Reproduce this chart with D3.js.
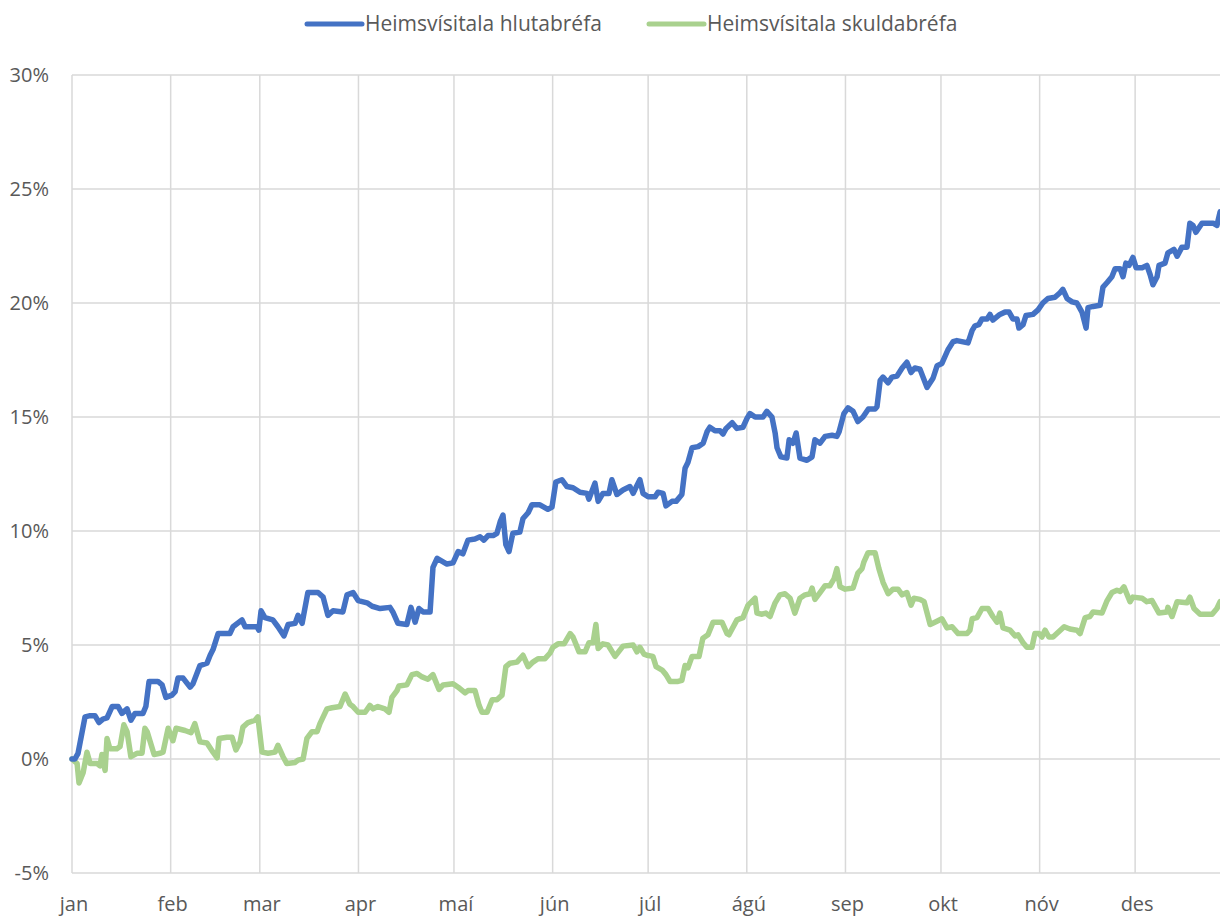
<!DOCTYPE html>
<html>
<head>
<meta charset="utf-8">
<script src="https://cdn.jsdelivr.net/npm/d3@7"></script>
<style>
  body { margin: 0; background: #fff; }
  svg text { font-family: "Open Sans", sans-serif; fill: #595959; }
</style>
</head>
<body>
<script>
// manaðarheiti á x-ás
const manudir = ["jan","feb","mar","apr","maí","jún","júl","ágú","sep","okt","nóv","des"]
const yTicks = [-5,0,5,10,15,20,25,30]
const serieNames = ["Heimsvísitala hlutabréfa","Heimsvísitala skuldabréfa"]

// dagur ársins (frá 1. jan) og ávöxtun í %
const hlutDagar = [0,0.9,1.9,4.1,5.7,7.2,8.5,9.7,11,12.6,14.5,15.7,17.3,18.5,19.8,22.3,23.2,24.2,27,28.3,29.5,31.4,32.4,33.3,34.9,37.1,38,40.2,42.4,43.4,44.3,45.9,47.4,49.6,50.6,53.4,54.4,58.1,58.7,59.4,60.6,63.1,64.7,66.6,67.9,70.1,71,72.3,74.1,77.3,78.9,80.4,82,85.1,86.4,88.3,89.9,92.7,94.3,96.8,99.9,100.8,102.4,105.2,106.5,107.8,109,110.3,112.5,113.4,114.7,117.8,119.7,121.3,122.8,124.4,126.6,128.2,129.4,130.7,132.3,133.5,134.5,135.4,136.3,137.3,138.5,140.7,141.7,143.3,144.5,147,149.5,150.8,152,153.9,155.5,157.4,159.6,161.8,162.4,164.3,165.3,166.8,168.7,169.6,171.2,173.1,175.3,176.3,177.5,178.4,179.4,181,183.2,184.1,185.7,186.6,188.5,189.8,191.6,192.6,193.5,194.8,196.7,198.3,199.5,200.4,202,203.6,204.5,205.5,207.4,208.9,210.8,212.1,213,214.6,217.1,218.3,219.9,220.9,221.5,222.7,224.6,225.3,226.5,227.5,228.7,230.9,232.5,233.4,235,236.6,238.8,240.3,241,242.5,243.8,245.4,246.9,248.5,250.2,252.3,252.9,253.9,254.8,256.4,257.6,259.2,260.8,262.3,263.6,264.8,266.4,268.6,270.5,271.8,273.3,275.2,276.8,278,281.5,282.8,283.7,284.9,285.9,287.5,288.4,289.3,291.5,293.1,294.4,295.6,296.9,297.5,298.8,299.7,301.9,303.5,305,306.6,308.8,310.4,311.3,312.6,314.2,315.7,317.3,318.6,319.2,320.8,323,323.9,325.2,326.7,327.7,329.3,330.2,331.1,332.1,333.3,334.3,336.2,337.7,338.7,339.6,340.9,341.5,343.4,344.3,346.2,347.2,348.7,350.3,351.2,352.2,353.1,355,358.5,359.7,360.7]
const hlutGildi = [0,0,0.25,1.85,1.9,1.9,1.6,1.75,1.8,2.3,2.3,2.0,2.2,1.7,2.0,2.0,2.3,3.4,3.4,3.25,2.7,2.8,2.95,3.55,3.55,3.15,3.3,4.1,4.2,4.55,4.8,5.5,5.5,5.5,5.8,6.1,5.8,5.8,5.65,6.5,6.2,6.1,5.8,5.4,5.9,5.95,6.3,5.95,7.3,7.3,7.1,6.3,6.5,6.45,7.2,7.3,6.95,6.85,6.7,6.6,6.65,6.45,5.95,5.9,6.65,6.0,6.6,6.45,6.45,8.4,8.8,8.55,8.6,9.1,9.0,9.6,9.65,9.75,9.6,9.8,9.8,9.9,10.4,10.7,9.4,9.1,9.9,9.95,10.55,10.8,11.15,11.15,10.95,11.05,12.15,12.25,11.95,11.9,11.7,11.65,11.4,12.1,11.3,11.65,11.65,12.25,11.6,11.8,11.95,11.65,12.0,12.25,11.65,11.5,11.5,11.7,11.65,11.1,11.3,11.3,11.6,12.75,13.0,13.65,13.7,13.85,14.35,14.55,14.4,14.4,14.25,14.5,14.75,14.5,14.55,14.95,15.15,15.0,15.0,15.25,15.0,14.3,13.65,13.25,13.2,14.0,13.85,14.3,13.2,13.1,13.25,14.0,13.85,14.15,14.2,14.15,14.35,15.15,15.4,15.25,14.8,15.0,15.35,15.35,15.45,16.6,16.75,16.5,16.75,16.8,17.15,17.4,16.95,17.15,17.1,16.3,16.7,17.25,17.35,17.95,18.3,18.35,18.25,18.8,19.0,19.05,19.3,19.3,19.5,19.25,19.5,19.6,19.6,19.3,19.3,18.9,19.05,19.45,19.5,19.7,20.0,20.2,20.25,20.45,20.6,20.2,20.05,20.0,19.6,18.9,19.8,19.85,19.9,20.7,20.9,21.15,21.5,21.5,21.15,21.75,21.65,22.0,21.55,21.55,21.65,21.25,20.8,21.15,21.65,21.75,22.2,22.35,22.05,22.45,22.45,23.5,23.4,23.1,23.5,23.5,23.4,24.0]

const skuldDagar = [0,1.6,2.2,3.5,4.7,5.7,7.9,8.8,9.4,9.7,10.4,11,11.9,14.1,15.1,16.3,17.3,18.5,20.4,22,22.9,23.6,25.8,27.6,28.6,30.2,31.7,32.7,35.5,37.4,38.6,40.2,42.4,44.3,45.6,46.2,48.7,50.3,51.5,52.8,53.7,55.3,57.5,58.4,59.7,61.6,63.8,64.7,66.3,67.5,70.1,71,72.6,73.8,75.4,77,77.9,80.1,81.7,84.2,85.8,87.3,88.3,89.9,92.1,93.6,94.6,96.1,98.3,99.6,100.5,102.1,102.7,105.2,106.8,108.4,110,111.8,113.4,115.3,116.6,119.7,121.3,123.5,124.4,126.6,127.9,128.8,130.4,132,133.5,135.1,136.3,137.6,139.8,141.7,143.3,144.8,146.4,148.6,150.2,151.1,152.7,154.6,156.5,157.4,159.3,161.2,162.4,163.7,164.6,165.3,166.8,168.4,170.6,173.1,176.3,177.5,178.4,179.7,180.6,182.5,183.5,185.4,186.6,187.9,190.4,191.6,192.6,193.5,194.8,197,198.2,199.8,201.4,204.2,205.8,206.4,208.9,210.8,212.4,214.6,215.2,216.8,218,219.3,220.9,222.4,224,225.6,227.1,228.7,230.3,231.9,232.5,233.4,235,236.6,238.1,239.4,240.3,241.3,242.9,245.4,246.9,248.2,248.8,250.1,252.3,253.5,254.8,256.4,257.9,259.5,260.8,262.3,263.6,264.5,266.4,267.7,269.6,271.1,273.3,274.9,276.5,278.4,281.2,282.1,282.8,284.3,285.9,287.8,289.3,290.6,291.5,292.5,294.7,296.3,297.2,298.8,300,301.6,302.5,303.8,304.7,305.7,306.9,308.2,311.7,313.5,315.7,316.7,318.3,319.8,320.8,323.6,325.2,326.7,328.3,329.3,330.5,332.4,333.3,336.2,337.7,339.3,341.5,344,344.3,345.6,347.2,350.3,351.2,352.5,354.4,358.2,359.7,360.7]
const skuldGildi = [0,-0.2,-1.05,-0.6,0.3,-0.2,-0.2,-0.3,0.2,-0.05,-0.5,0.9,0.45,0.45,0.55,1.5,1.2,0.1,0.25,0.25,1.35,1.2,0.2,0.25,0.3,1.35,0.8,1.35,1.25,1.15,1.55,0.75,0.7,0.3,0.05,0.9,0.95,0.95,0.4,0.75,1.4,1.6,1.7,1.85,0.3,0.25,0.3,0.6,0.1,-0.2,-0.15,-0.05,0,0.9,1.2,1.2,1.55,2.2,2.25,2.3,2.85,2.4,2.3,2.05,2.05,2.35,2.2,2.3,2.2,2.05,2.7,3.0,3.2,3.25,3.7,3.75,3.6,3.5,3.7,3.05,3.25,3.3,3.15,2.9,3.0,3.0,2.35,2.05,2.05,2.6,2.6,2.8,4.05,4.2,4.25,4.55,4.05,4.25,4.4,4.4,4.65,4.9,5.05,5.05,5.5,5.35,4.7,4.7,5.1,5.1,5.9,4.85,5.05,5.0,4.5,4.95,5.0,4.7,4.9,4.6,4.55,4.5,4.05,3.9,3.7,3.4,3.4,3.45,4.1,4.0,4.5,4.5,5.3,5.45,6.0,6.0,5.5,5.45,6.1,6.2,6.75,7.05,6.4,6.35,6.4,6.25,6.85,7.2,7.25,7.05,6.4,7.05,7.2,7.25,7.5,7.0,7.3,7.6,7.6,7.9,8.35,7.55,7.45,7.5,8.15,8.35,8.65,9.05,9.05,8.35,7.75,7.25,7.45,7.45,7.2,7.3,6.75,7.05,7.0,6.9,5.9,6.0,6.15,5.75,5.8,5.5,5.5,5.65,6.15,6.2,6.6,6.6,6.25,6.0,6.4,5.75,5.65,5.4,5.45,5.1,4.9,4.9,5.5,5.5,5.35,5.65,5.35,5.35,5.8,5.7,5.65,5.5,6.2,6.25,6.45,6.4,6.95,7.3,7.4,7.35,7.55,6.9,7.1,7.05,6.9,6.95,6.4,6.45,6.65,6.25,6.9,6.85,7.1,6.6,6.35,6.35,6.6,6.9]

const litir = ["#4472C4","#A9D18E"]

const W = 1220, H = 916
const arStart = new Date(2019,0,1), arEnd = new Date(2020,0,1)
const dagur = d => new Date(arStart.getTime() + d*864e5)

const svg = d3.select("body").append("svg")
  .attr("width",W).attr("height",H)

const x = d3.scaleTime().domain([arStart,arEnd]).range([72,1233.8])
const y = d3.scaleLinear().domain([-5,30]).range([873,75])

// gridlines
svg.append("g").selectAll("line").data(yTicks).enter().append("line")
  .attr("x1",72).attr("x2",W)
  .attr("y1",d=>y(d)).attr("y2",d=>y(d))
  .attr("stroke","#D9D9D9").attr("stroke-width",1.5)

const monthDates = manudir.map((m,i)=>new Date(2019,i,1))
svg.append("g").selectAll("line").data(monthDates).enter().append("line")
  .attr("x1",d=>x(d)).attr("x2",d=>x(d))
  .attr("y1",y(30)).attr("y2",y(-5))
  .attr("stroke","#D9D9D9").attr("stroke-width",1.5)

// y labels
svg.append("g").selectAll("text").data(yTicks).enter().append("text")
  .attr("x",49).attr("y",d=>y(d))
  .attr("dy","0.35em")
  .attr("text-anchor","end")
  .style("font-size","20px")
  .text(d=>d+"%")

// x labels
svg.append("g").selectAll("text").data(monthDates).enter().append("text")
  .attr("x",d=>x(d)+2).attr("y",911)
  .attr("text-anchor","middle")
  .style("font-size","20px")
  .text((d,i)=>manudir[i])

const line = d3.line().x(d=>x(dagur(d[0]))).y(d=>y(d[1]))

const series = [
  d3.zip(hlutDagar,hlutGildi),
  d3.zip(skuldDagar,skuldGildi)
]

// græna línan neðst, bláa ofan á
series.slice().reverse().forEach((s,j)=>{
  const i = series.length-1-j
  svg.append("path")
    .datum(s)
    .attr("d",line)
    .attr("fill","none")
    .attr("stroke",litir[i])
    .attr("stroke-width",5.5)
    .attr("stroke-linejoin","round")
    .attr("stroke-linecap","round")
})

// legend
const legendX = [307,649]
const leg = svg.append("g")
serieNames.forEach((n,i)=>{
  leg.append("line")
    .attr("x1",legendX[i]).attr("x2",legendX[i]+55)
    .attr("y1",24).attr("y2",24)
    .attr("stroke",litir[i]).attr("stroke-width",5)
    .attr("stroke-linecap","round")
  leg.append("text")
    .attr("x",legendX[i]+58).attr("y",31)
    .style("font-size","21px")
    .text(n)
})
</script>
</body>
</html>
